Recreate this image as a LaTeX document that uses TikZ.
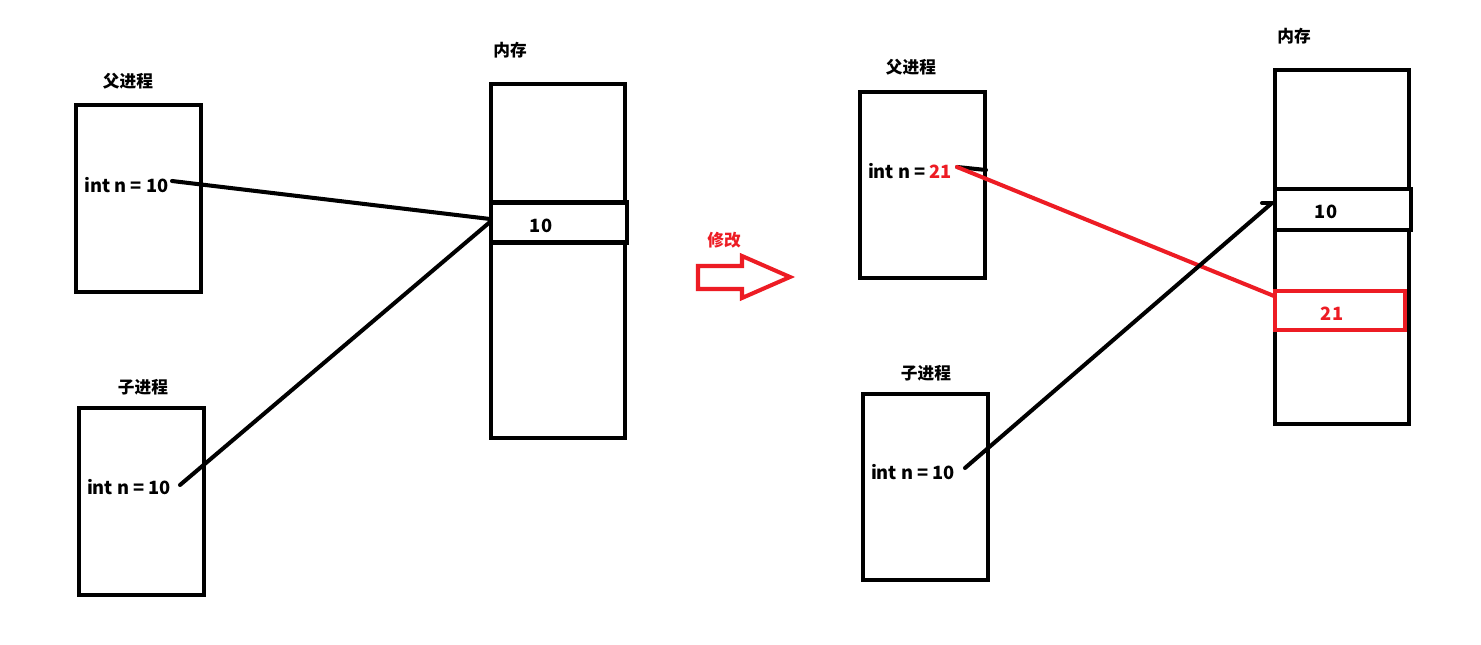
\documentclass[tikz,border=0pt]{standalone}
\usepackage{fontspec}
\setmainfont{Noto Sans CJK SC}
\definecolor{pred}{HTML}{ED1C24}
\begin{document}
\begin{tikzpicture}[x=0.02cm,y=-0.02cm,
  box/.style={draw=black, line width=2.3pt, inner sep=0pt},
  procbox/.style={box, minimum width=2.5cm, minimum height=3.74cm},
  membox/.style={box, minimum width=2.68cm, minimum height=7.08cm},
  cellbox/.style={box, minimum width=2.72cm, minimum height=0.8cm, fill=white},
  lbl/.style={font=\fontsize{9.5pt}{11pt}\selectfont\bfseries, inner sep=0pt},
  val/.style={font=\fontsize{10.4pt}{12pt}\selectfont\bfseries, inner sep=0pt},
  conn/.style={line width=2.3pt, line cap=round}]
\useasboundingbox (0,0) rectangle (1481,645);
\fill[white] (0,0) rectangle (1481,645);

% ---- left side ----
\node[procbox] (lp) at (138.5,198.5) {};
\node[procbox] (lc) at (141.5,501.5) {};
\node[membox]  (lm) at (558,261) {};
\node[cellbox] (lcell) at (559,222.5) {};
\node[lbl] (lpl) at (128,81) {父进程};
\node[lbl] (lcl) at (143,387) {子进程};
\node[lbl] (lml) at (510,50) {内存};
\node[val] (lpt) at (126.5,185) {int n = 10};
\node[val] (lct) at (129,487) {int n = 10};
\node[val] (lcv) at (541,226) {10};

\coordinate (a1) at (172,181);
\coordinate (a2) at (490,219);
\coordinate (b1) at (180,485);
\coordinate (b2) at (490,222);
\draw[conn] (a1) -- (a2);
\draw[conn] (b1) -- (b2);

% ---- modify arrow ----
\node[lbl, text=pred] (mod) at (724,240) {修改};
\draw[pred, line width=2.3pt, line join=miter]
  (698,266) -- (742,266) -- (742,256) -- (790,277) -- (742,298) -- (742,289) -- (698,289) -- cycle;

% ---- right side ----
\node[procbox, minimum height=3.72cm] (rp) at (922.5,185) {};
\node[procbox, minimum height=3.72cm] (rc) at (925.5,487) {};
\node[membox] (rm) at (1342,247) {};
\node[cellbox, minimum height=0.82cm] (rc10) at (1343,209.5) {};
\node[cellbox, draw=pred, minimum width=2.6cm, minimum height=0.78cm] (rc21) at (1340,310.5) {};
\node[lbl] (rpl) at (911,67) {父进程};
\node[lbl] (rcl) at (926,373) {子进程};
\node[lbl] (rml) at (1294,36) {内存};
\node[val] (rpt) at (910,171) {int n = \textcolor{pred}{21}};
\node[val] (rct) at (913,472) {int n = 10};
\node[val] (rv10) at (1326,212) {10};
\node[val, text=pred] (rv21) at (1332,314) {21};

\coordinate (c1) at (957,167);
\coordinate (c0) at (986,170);
\coordinate (c2) at (1274,296);
\coordinate (d1) at (965,468);
\coordinate (d2) at (1272,203);
\coordinate (d3) at (1262,203);
\draw[conn] (c1) -- (c0);
\draw[conn, pred] (c1) -- (c2);
\draw[conn] (d1) -- (d2);
\draw[conn] (d3) -- (d2);
\end{tikzpicture}
\end{document}
